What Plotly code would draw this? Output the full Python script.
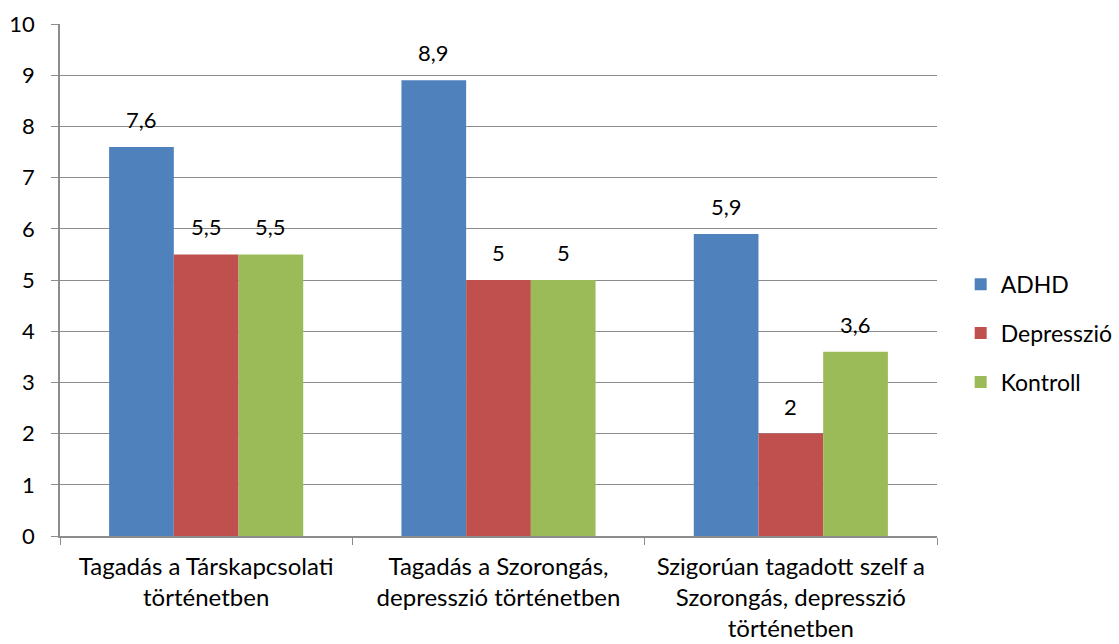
import plotly.graph_objects as go

categories = [
    "Tagadás a Társkapcsolati<br>történetben",
    "Tagadás a Szorongás,<br>depresszió történetben",
    "Szigorúan tagadott szelf a<br>Szorongás, depresszió<br>történetben",
]
adhd = [7.6, 8.9, 5.9]
depresszio = [5.5, 5.0, 2.0]
kontroll = [5.5, 5.0, 3.6]

series = [
    ("ADHD", adhd, "#4F81BD"),
    ("Depresszió", depresszio, "#C0504D"),
    ("Kontroll", kontroll, "#9BBB59"),
]

FONT = "Lato"
GRID = "#8C8C8C"
W, H = 1119, 644
M = dict(l=60, r=182, t=24, b=108)
BARGAP = 0.336

# pixel width of one bar, used to place value labels over each bar
plot_w = W - M["l"] - M["r"]
bar_px = plot_w / len(categories) * (1 - BARGAP) / len(series)

fig = go.Figure()
for i, (name, vals, color) in enumerate(series):
    fig.add_trace(go.Bar(
        name=name, x=categories, y=vals,
        marker=dict(color=color, line=dict(width=0)),
        legendgroup=name,
    ))
    for cat, v in zip(categories, vals):
        fig.add_annotation(
            x=cat, y=v, text=f"{v:g}".replace(".", ","),
            showarrow=False, yanchor="bottom", yshift=12,
            xshift=(i - 1) * bar_px,
            font=dict(family=FONT, size=22, color="#000000"),
        )

fig.update_layout(
    width=W, height=H,
    margin=dict(**M, autoexpand=False),
    plot_bgcolor="white", paper_bgcolor="white",
    barmode="group", bargap=BARGAP, bargroupgap=0,
    separators=", ",
    font=dict(family=FONT, size=24, color="#000000"),
    legend=dict(x=1.027, y=0.396, yanchor="middle", xanchor="left",
                font=dict(family=FONT, size=23), tracegroupgap=16,
                itemwidth=30),
    showlegend=True,
)
fig.update_yaxes(
    range=[0, 10], dtick=1, showgrid=True, gridcolor=GRID, gridwidth=1,
    showline=True, linecolor=GRID, linewidth=1.5,
    ticks="outside", ticklen=7, tickcolor=GRID,
    tickfont=dict(family=FONT, size=22), zeroline=False,
    ticklabelstandoff=12,
)
fig.update_xaxes(
    showline=True, linecolor=GRID, linewidth=1.5,
    ticks="outside", ticklen=7, tickcolor=GRID, tickson="boundaries",
    tickfont=dict(family=FONT, size=24), ticklabelstandoff=8,
)

fig.write_html("out.html")
